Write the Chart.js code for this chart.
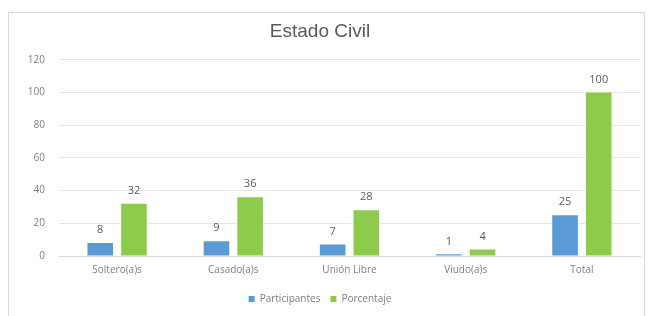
<!DOCTYPE html>
<html>
<head>
<meta charset="utf-8">
<script src="https://cdn.jsdelivr.net/npm/chart.js@4.4.1/dist/chart.umd.min.js"></script>
<style>
  html, body { margin: 0; padding: 0; background: #fff; }
  #wrap { position: relative; width: 651px; height: 316px; overflow: hidden; }
  #frame { position: absolute; left: 8px; top: 12px; width: 635px; height: 320px; border: 1px solid #d9d9d9; }
  #chart { position: absolute; left: 0; top: 0; }
</style>
</head>
<body>
<div id="wrap">
  <div id="frame"></div>
  <canvas id="chart" width="651" height="316"></canvas>
</div>
<script>
const categories = ['Soltero(a)s', 'Casado(a)s', 'Unión Libre', 'Viudo(a)s', 'Total'];
const participantes = [8, 9, 7, 1, 25];
const porcentaje = [32, 36, 28, 4, 100];
const yTicks = [0, 20, 40, 60, 80, 100, 120];

// draws the value above each bar
const barValues = {
    id: 'barValues',
    afterDatasetsDraw(chart) {
        const ctx = chart.ctx;
        ctx.save();
        ctx.font = '11px "Open Sans", sans-serif';
        ctx.fillStyle = '#595959';
        ctx.textAlign = 'center';
        ctx.textBaseline = 'middle';
        chart.data.datasets.forEach((ds, i) => {
            chart.getDatasetMeta(i).data.forEach((bar, j) => {
                ctx.fillText(ds.data[j], bar.x, bar.y - 13);
            });
        });
        ctx.restore();
    }
};

new Chart(document.getElementById('chart'), {
    type: 'bar',
    data: {
        labels: categories,
        datasets: [
            { label: 'Participantes', data: participantes, backgroundColor: '#5B9BD5', categoryPercentage: 0.58, barPercentage: 0.76 },
            { label: 'Porcentaje', data: porcentaje, backgroundColor: '#8DCB4A', categoryPercentage: 0.58, barPercentage: 0.76 }
        ]
    },
    options: {
        responsive: false,
        animation: false,
        layout: { padding: { left: 0, right: 11, top: 0, bottom: 2 } },
        plugins: {
            title: {
                display: true,
                text: 'Estado Civil',
                color: '#595959',
                font: { family: '"Liberation Sans", Arial, sans-serif', size: 19, weight: 'normal' },
                padding: { top: 20, bottom: 17 }
            },
            legend: {
                position: 'bottom',
                labels: {
                    boxWidth: 6,
                    boxHeight: 6,
                    color: '#7f7f7f',
                    padding: 10,
                    font: { family: '"Open Sans", sans-serif', size: 10 }
                }
            },
            tooltip: { enabled: false }
        },
        scales: {
            x: {
                grid: { display: false, drawTicks: false },
                border: { color: '#d9d9d9' },
                ticks: { color: '#7f7f7f', padding: 8, font: { family: '"Open Sans", sans-serif', size: 10 } }
            },
            y: {
                min: 0,
                max: 120,
                afterFit(scale) { scale.width = 59; },
                afterBuildTicks(scale) { scale.ticks = yTicks.map(v => ({ value: v })); },
                grid: { color: '#e6e6e6', drawTicks: false },
                border: { display: false },
                ticks: { color: '#7f7f7f', padding: 14, font: { family: '"Open Sans", sans-serif', size: 10 } }
            }
        }
    },
    plugins: [barValues]
});
</script>
</body>
</html>
